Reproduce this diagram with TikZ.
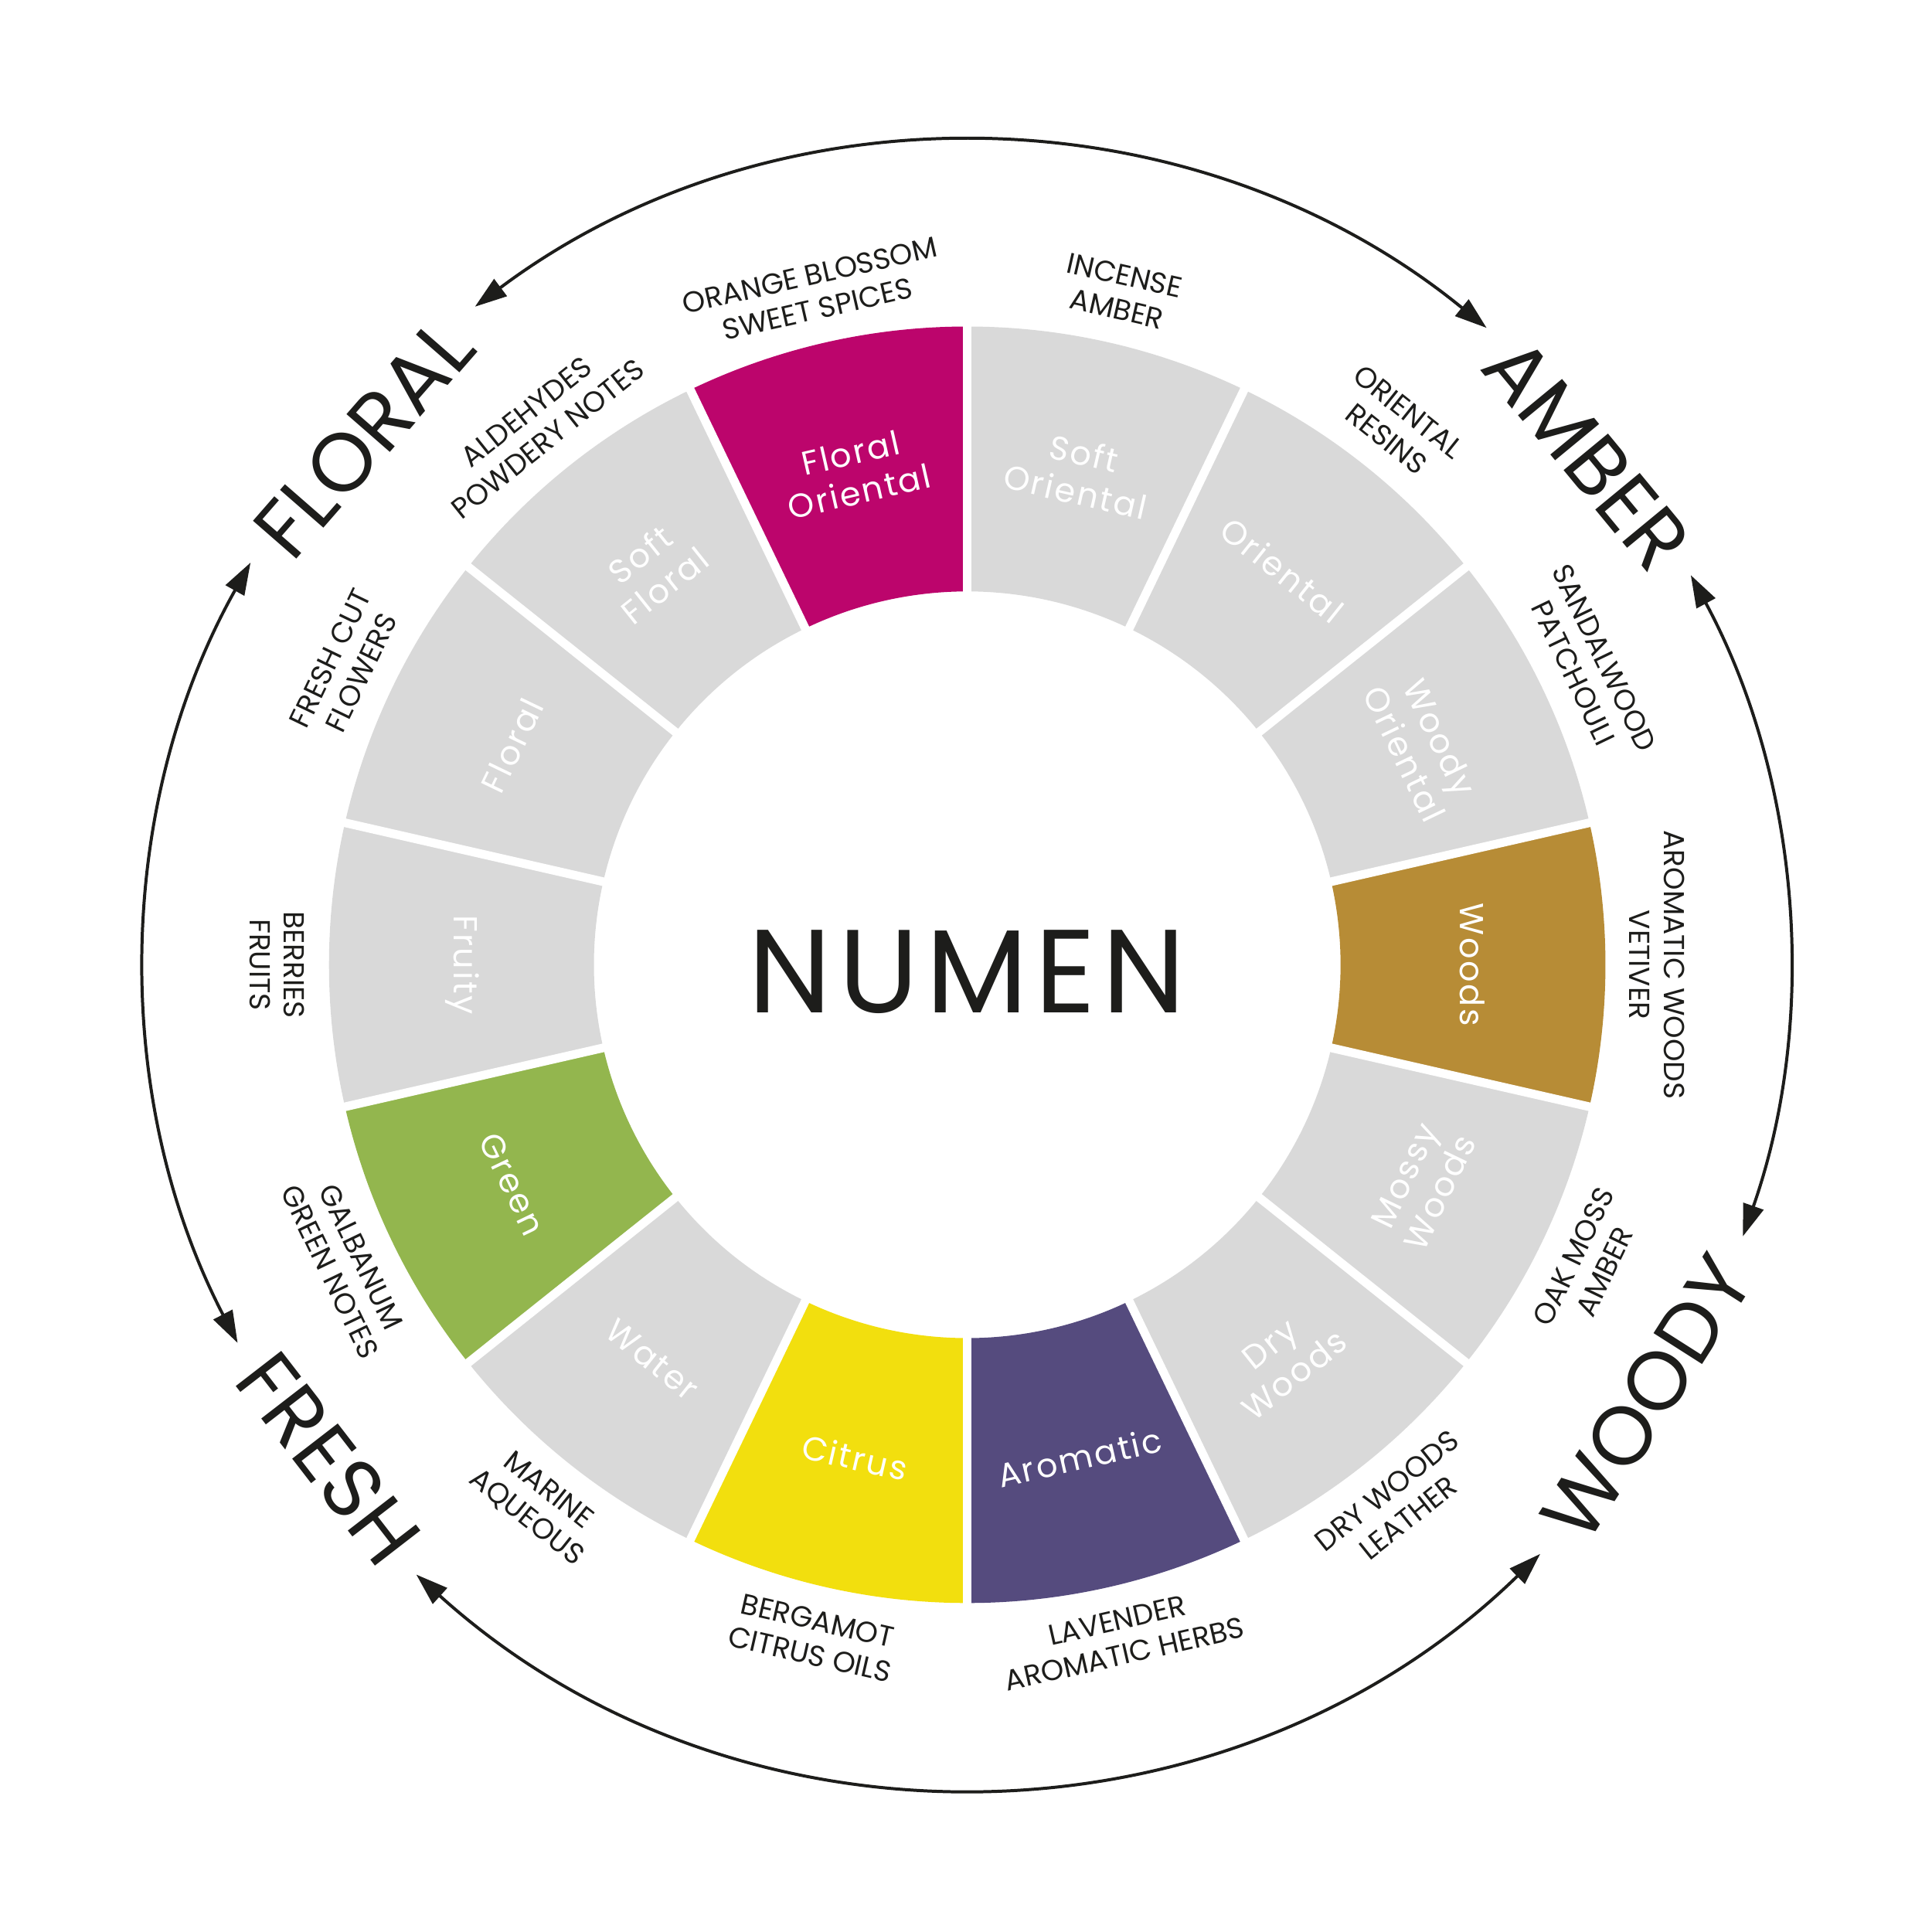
\documentclass[tikz,border=0pt]{standalone}
\usepackage{fontspec}
\setmainfont{Poppins}
\newfontfamily\segfont{Poppins}[LetterSpace=6]
\newfontfamily\titlefont{Poppins}[LetterSpace=6]
\usetikzlibrary{arrows.meta}
\definecolor{magentaF}{RGB}{188,5,108}
\definecolor{goldW}{RGB}{183,140,54}
\definecolor{greenG}{RGB}{147,182,78}
\definecolor{yellowC}{RGB}{242,223,14}
\definecolor{purpleA}{RGB}{85,75,126}
\definecolor{grayS}{RGB}{217,217,217}
\definecolor{inkc}{RGB}{29,29,27}
\begin{document}
\begin{tikzpicture}[x=1pt,y=1pt,
  seglab/.style={text=white, font=\segfont\fontsize{27}{32}\selectfont, align=center, inner sep=0pt},
  outlab/.style={text=inkc, font=\fontsize{23.5}{28}\selectfont, align=center, inner sep=0pt},
  catlab/.style={text=inkc, font=\fontsize{67}{70}\selectfont, inner sep=0pt},
  cycarrow/.style={draw=inkc, line width=2.5pt, arrows={Triangle[length=26pt,width=17pt]-Triangle[length=26pt,width=17pt]}},
  gapline/.style={draw=white, line width=7pt}
]
\useasboundingbox (-785,-785) rectangle (783,783);
% sectors
\foreach \c/\col [count=\i] in {102.857/magentaF, 77.143/grayS, 51.429/grayS, 25.714/grayS, 0/goldW, -25.714/grayS, -51.429/grayS, -77.143/purpleA, -102.857/yellowC, -128.571/grayS, -154.286/greenG, 180/grayS, 154.286/grayS, 128.571/grayS}{
  \pgfmathsetmacro\a{\c-12.857}
  \pgfmathsetmacro\b{\c+12.857}
  \fill[\col] (\a:303) arc[start angle=\a, end angle=\b, radius=303] -- (\b:518) arc[start angle=\b, end angle=\a, radius=518] -- cycle;
}
% gaps
\foreach \k in {0,...,13}{
  \pgfmathsetmacro\g{90+\k*25.7143}
  \draw[gapline] (\g:290) -- (\g:530);
}
% labels
\foreach \c/\lab/\out [count=\i] in {
  102.857/{Floral\\Oriental}/{ORANGE BLOSSOM\\SWEET SPICES},
  77.143/{Soft\\Oriental}/{INCENSE\\AMBER},
  51.429/{Oriental}/{ORIENTAL\\RESINS},
  25.714/{Woody\\Oriental}/{SANDALWOOD\\PATCHOULI},
  0/{Woods}/{AROMATIC WOODS\\VETIVER},
  -25.714/{Mossy\\Woods}/{OAK MOSS\\AMBER},
  -51.429/{Dry\\Woods}/{DRY WOODS\\LEATHER},
  -77.143/{Aromatic}/{LAVENDER\\AROMATIC HERBS},
  -102.857/{Citrus}/{BERGAMOT\\CITRUS OILS},
  -128.571/{Water}/{MARINE\\AQUEOUS},
  -154.286/{Green}/{GALBANUM\\GREEN NOTES},
  180/{Fruity}/{BERRIES\\FRUITS},
  154.286/{Floral}/{FRESH CUT\\FLOWERS},
  128.571/{Soft\\Floral}/{ALDEHYDES\\POWDERY NOTES}}{
  \pgfmathsetmacro\rot{(\c>=0 && \c<180) ? \c-90 : \c+90}
  \node[seglab, rotate=\rot] (seg\i) at (\c:410) {\lab};
  \node[outlab, rotate=\rot] (out\i) at (\c:560) {\out};
}
% title
\node[font=\titlefont\fontsize{96}{96}\selectfont, text=inkc, anchor=base, inner sep=0pt] (title) at (0,-39) {NUMEN};
% category labels
\node[catlab, rotate=48.9] (floral) at (138.9:650) {FLORAL};
\node[catlab, rotate=-50.5] (amber) at (39.5:652) {AMBER};
\node[catlab, rotate=57.5] (woody) at (-32.5:654) {WOODY};
\node[catlab, rotate=-52.3] (fresh) at (-142.3:655) {FRESH};
% cycle arrows
\draw[cycarrow] (126.8:667) arc[start angle=126.8, end angle=50.8, radius=667];
\draw[cycarrow] (28.3:667) arc[start angle=28.3, end angle=-19.3, radius=667];
\draw[cycarrow] (-45.8:667) arc[start angle=-45.8, end angle=-132.1, radius=667];
\draw[cycarrow] (150.7:667) arc[start angle=150.7, end angle=207.4, radius=667];
\end{tikzpicture}
\end{document}
